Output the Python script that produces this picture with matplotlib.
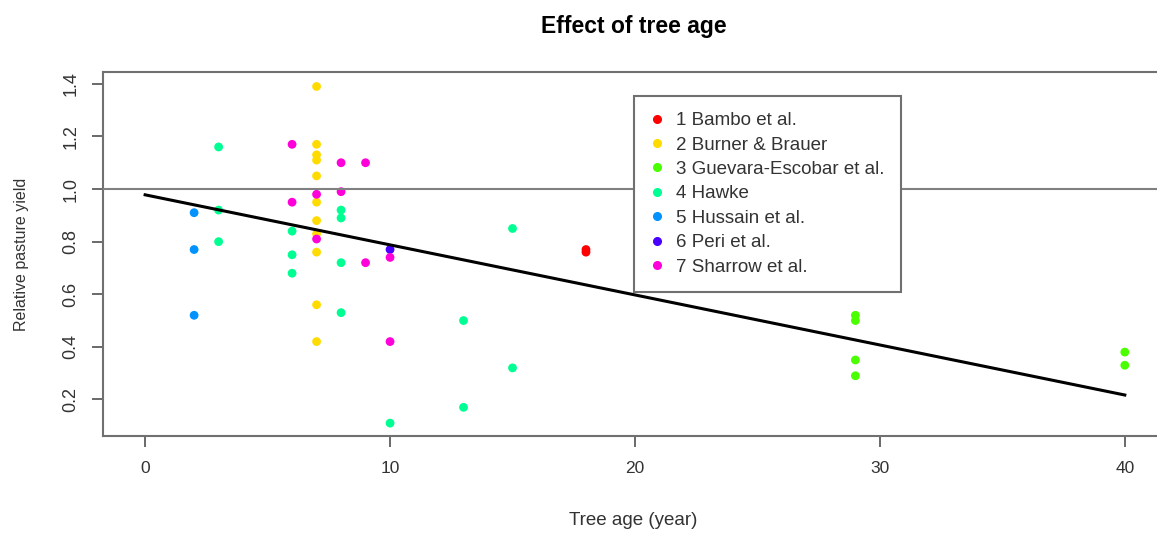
import numpy as np
import matplotlib
matplotlib.use("Agg")
import matplotlib.pyplot as plt

plt.rcParams['font.family'] = ['Liberation Sans', 'DejaVu Sans']

# studies and their colours (R rainbow(7))
studies = ["1 Bambo et al.", "2 Burner & Brauer", "3 Guevara-Escobar et al.",
           "4 Hawke", "5 Hussain et al.", "6 Peri et al.", "7 Sharrow et al."]
colours = ["#FF0000", "#FFDB00", "#49FF00", "#00FF92", "#0092FF", "#4900FF", "#FF00DB"]

# tree age (years) and relative pasture yield per study
bambo_age = [18, 18]
bambo_yield = [0.77, 0.76]

burner_age = [7, 7, 7, 7, 7, 7, 7, 7, 7, 7, 7]
burner_yield = [1.39, 1.17, 1.13, 1.11, 1.05, 0.95, 0.88, 0.83, 0.76, 0.56, 0.42]

guevara_age = [29, 29, 29, 29, 40, 40]
guevara_yield = [0.52, 0.50, 0.35, 0.29, 0.38, 0.33]

hawke_age = [3, 3, 3, 6, 6, 6, 8, 8, 8, 8, 10, 13, 13, 15, 15]
hawke_yield = [1.16, 0.92, 0.80, 0.84, 0.75, 0.68, 0.92, 0.89, 0.72, 0.53,
               0.11, 0.50, 0.17, 0.85, 0.32]

hussain_age = [2, 2, 2]
hussain_yield = [0.91, 0.77, 0.52]

peri_age = [10]
peri_yield = [0.77]

sharrow_age = [6, 6, 7, 7, 8, 8, 9, 9, 10, 10]
sharrow_yield = [1.17, 0.95, 0.98, 0.81, 1.10, 0.99, 1.10, 0.72, 0.74, 0.42]

ages = [bambo_age, burner_age, guevara_age, hawke_age, hussain_age, peri_age, sharrow_age]
yields = [bambo_yield, burner_yield, guevara_yield, hawke_yield, hussain_yield,
          peri_yield, sharrow_yield]

# fitted line
fit_intercept = 0.978
fit_slope = -0.01903
fit_range = [0, 40]

W, H = 1157, 536
fig = plt.figure(figsize=(W / 100, H / 100), dpi=100)
ax = fig.add_axes([103 / W, 100 / H, (1164 - 103) / W, (436 - 72) / H])

for a, y, c in zip(ages, yields, colours):
    ax.scatter(a, y, s=40, color=c, edgecolors='none', zorder=2)

ax.axhline(1.0, color='#808080', lw=1.5, zorder=3)
xs = np.array(fit_range)
ax.plot(xs, fit_intercept + fit_slope * xs, color='black', lw=2.2, zorder=4)

ax.set_xlim(-1.72, 41.6)
ax.set_ylim(0.061, 1.445)
ax.set_xticks([0, 10, 20, 30, 40])
ax.set_yticks([0.2, 0.4, 0.6, 0.8, 1.0, 1.2, 1.4])
ax.set_yticklabels(["0.2", "0.4", "0.6", "0.8", "1.0", "1.2", "1.4"], rotation=90, va='center')

for s in ax.spines.values():
    s.set_color('#707070')
    s.set_linewidth(1.5)
ax.tick_params(axis='both', length=8, width=1.2, color='#505050', labelcolor='#333333')
ax.tick_params(axis='x', pad=10, labelsize=12.5)
ax.tick_params(axis='y', pad=9, labelsize=13)

ax.set_xlabel("Tree age (year)", fontsize=13.5, color='#333333', labelpad=26)
ax.set_ylabel("Relative pasture yield", fontsize=11.5, color='#333333', labelpad=24)
fig.text(634 / W, 1 - 26 / H, "Effect of tree age", ha='center', va='center',
         fontsize=16.5, fontweight='bold')

handles = [plt.Line2D([], [], marker='o', ls='none', color=c, markersize=5.5) for c in colours]
leg = fig.legend(handles, studies, loc='upper left', bbox_to_anchor=(634 / W, 1 - 96 / H),
                 bbox_transform=fig.transFigure, borderaxespad=0, frameon=True,
                 fancybox=False, edgecolor='#707070', framealpha=1, fontsize=13.5,
                 labelspacing=0.39, handlelength=0.7, handletextpad=0.7, borderpad=0.85)
leg.get_frame().set_linewidth(1.5)
for t in leg.get_texts():
    t.set_color('#333333')

fig.savefig("out.png", dpi=100)
